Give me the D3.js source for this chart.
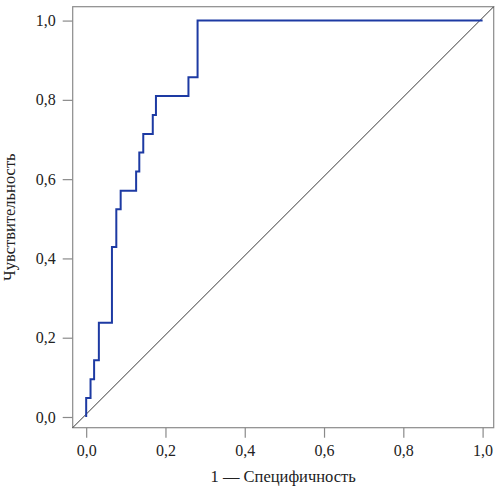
<!DOCTYPE html>
<html><head><meta charset="utf-8">
<script src="https://cdn.jsdelivr.net/npm/d3@7"></script>
<style>body{margin:0;background:#fff}svg text{font-family:"Liberation Serif","Times New Roman","DejaVu Serif",serif;fill:#222}</style>
</head><body><svg id="c" width="500" height="487"></svg>
<script>
// ROC curve points (1 - specificity, sensitivity)
const fpr = [0.000,0.000,0.011,0.011,0.020,0.020,0.032,0.032,0.065,0.065,0.076,0.076,0.087,0.087,0.126,0.126,0.134,0.134,0.144,0.144,0.168,0.168,0.176,0.176,0.258,0.258,0.281,0.281,1.000];
const tpr = [0.000,0.048,0.048,0.095,0.095,0.143,0.143,0.238,0.238,0.429,0.429,0.524,0.524,0.571,0.571,0.619,0.619,0.667,0.667,0.714,0.714,0.762,0.762,0.810,0.810,0.857,0.857,1.000,1.000];
const tickValues = [0,0.2,0.4,0.6,0.8,1.0];
const tickLabels = ["0,0","0,2","0,4","0,6","0,8","1,0"];
const xTitle = "1 — Специфичность";
const yTitle = "Чувствительность";

const svg = d3.select("#c");
const L=72.7, R=493.7, T=6.7, B=427.7;
const x = d3.scaleLinear().domain([-0.034,1.028]).range([L,R]);
const y = d3.scaleLinear().domain([-0.027,1.035]).range([B,T]);
const grey="#8a8a8a";

svg.append("rect").attr("x",L).attr("y",T).attr("width",R-L).attr("height",B-T)
  .attr("fill","none").attr("stroke",grey).attr("stroke-width",1.2);

svg.append("line").attr("x1",x.range()[0]).attr("y1",y.range()[0])
  .attr("x2",x.range()[1]).attr("y2",y.range()[1])
  .attr("stroke","#222").attr("stroke-width",0.9);

const fmt = (d,i)=>tickLabels[i];
const xa = svg.append("g").attr("transform",`translate(0,${B})`)
  .call(d3.axisBottom(x).tickValues(tickValues).tickFormat(fmt).tickSize(10).tickPadding(7));
const ya = svg.append("g").attr("transform",`translate(${L},0)`)
  .call(d3.axisLeft(y).tickValues(tickValues).tickFormat(fmt).tickSize(10).tickPadding(7));
[xa,ya].forEach(g=>{
  g.attr("font-family",null);
  g.select(".domain").remove();
  g.selectAll("line").attr("stroke",grey).attr("stroke-width",1.2);
  g.selectAll("text").style("font-size","16px").attr("fill","#222");
});

const pts = fpr.map((v,i)=>[v,tpr[i]]);
svg.append("path").datum(pts)
  .attr("d",d3.line().x(d=>x(d[0])).y(d=>y(d[1])))
  .attr("fill","none").attr("stroke","#1d3aa3").attr("stroke-width",2);

svg.append("text").attr("x",(L+R)/2).attr("y",482).attr("text-anchor","middle")
  .style("font-size","16.5px").text(xTitle);
svg.append("text").attr("transform",`translate(15,${(T+B)/2}) rotate(-90)`)
  .attr("text-anchor","middle").style("font-size","16.5px").text(yTitle);
</script></body></html>
